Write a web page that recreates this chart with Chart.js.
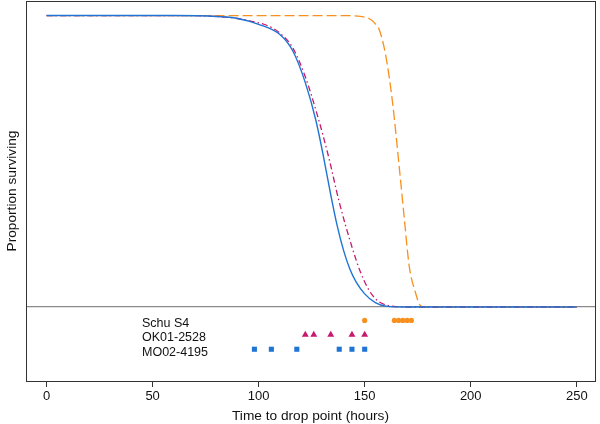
<!DOCTYPE html>
<html>
<head>
<meta charset="utf-8">
<script src="https://cdn.jsdelivr.net/npm/chart.js@4/dist/chart.umd.min.js"></script>
<style>
  html, body { margin: 0; padding: 0; background: #fff; }
  #wrap { width: 600px; height: 424px; }
</style>
</head>
<body>
<div id="wrap"><canvas id="chart" width="600" height="424"></canvas></div>
<script>
// fitted survival curves (time in hours, proportion surviving)
const moTime = [0, 60, 80, 90, 100, 110, 116, 122, 127, 131, 134, 137, 140, 143, 146, 150, 155, 160, 170, 250];
const moSurv = [1, 1, 0.997, 0.99, 0.97, 0.935, 0.88, 0.77, 0.64, 0.5, 0.385, 0.28, 0.195, 0.13, 0.085, 0.045, 0.015, 0.003, 0, 0];

const okTime = [0, 60, 80, 90, 100, 104, 110, 116, 122, 128, 133, 138, 144, 148, 152, 156, 160, 165, 170, 250];
const okSurv = [1, 1, 0.997, 0.99, 0.975, 0.966, 0.94, 0.89, 0.79, 0.65, 0.515, 0.36, 0.206, 0.12, 0.058, 0.022, 0.007, 0.001, 0, 0];

const schuTime = [0, 140, 148, 152, 154.5, 157, 160, 163, 166.3, 168.6, 171, 174, 176, 178, 250];
const schuSurv = [1, 1, 0.997, 0.99, 0.976, 0.949, 0.86, 0.71, 0.48, 0.31, 0.14, 0.048, 0.007, 0, 0];

// observed drop-point times per strain
const schuDrops = [150, 164, 166, 168, 170, 172];
const okDrops = [122, 126, 134, 144, 150];
const moDrops = [98, 106, 118, 138, 144, 150];

const strainLabels = ['Schu S4', 'OK01-2528', 'MO02-4195'];
const rowLevels = [-0.046, -0.095, -0.145];
const labelAt = 45;

const xTicks = [0, 50, 100, 150, 200, 250];

const blue = '#1f74d4';
const magenta = '#c8196e';
const orange = '#f7901e';
const font = "'Liberation Sans', Arial, sans-serif";

const pts = (xs, ys) => xs.map((x, i) => ({ x, y: ys[i] }));
const row = (xs, level) => xs.map(x => ({ x, y: level }));

const boxAndLabels = {
  id: 'boxAndLabels',
  afterDraw(chart) {
    const { ctx, chartArea: a, scales: { x, y } } = chart;
    ctx.save();
    ctx.strokeStyle = '#333';
    ctx.lineWidth = 1;
    ctx.strokeRect(Math.round(a.left) + 0.5, Math.round(a.top) + 0.5,
      Math.round(a.right - a.left), Math.round(a.bottom - a.top));
    ctx.fillStyle = '#111';
    ctx.font = '12.5px ' + font;
    ctx.textBaseline = 'middle';
    ctx.textAlign = 'left';
    strainLabels.forEach((t, i) => {
      ctx.fillText(t, x.getPixelForValue(labelAt), y.getPixelForValue(rowLevels[i]) + 3);
    });
    ctx.restore();
  }
};

const lineSet = (label, data, color, dash, width) => ({
  type: 'line', label, data,
  borderColor: color, borderWidth: width, borderDash: dash,
  pointRadius: 0, fill: false, cubicInterpolationMode: 'monotone'
});
const markSet = (label, data, color, style, r) => ({
  type: 'scatter', label, data,
  pointStyle: style, pointRadius: r, backgroundColor: color, borderColor: color, borderWidth: 0
});

new Chart(document.getElementById('chart'), {
  data: {
    datasets: [
      lineSet('MO02-4195', pts(moTime, moSurv), blue, [], 1.4),
      lineSet('OK01-2528', pts(okTime, okSurv), magenta, [6, 3, 1.5, 3], 1.3),
      lineSet('Schu S4', pts(schuTime, schuSurv), orange, [10, 4], 1.3),
      markSet('Schu S4 drops', row(schuDrops, rowLevels[0]), orange, 'circle', 2.6),
      markSet('OK01-2528 drops', row(okDrops, rowLevels[1]), magenta, 'triangle', 4),
      markSet('MO02-4195 drops', row(moDrops, rowLevels[2]), blue, 'rect', 3.6)
    ]
  },
  options: {
    responsive: false,
    animation: false,
    events: [],
    layout: { autoPadding: false, padding: { top: 1, right: 5, left: 0, bottom: 0 } },
    plugins: { legend: { display: false }, tooltip: { enabled: false } },
    scales: {
      x: {
        type: 'linear', min: -9.7, max: 258.6,
        afterBuildTicks: s => { s.ticks = xTicks.map(v => ({ value: v })); },
        afterFit: s => { s.height = 43; },
        grid: { drawOnChartArea: false, drawTicks: true, tickLength: 6, color: '#333' },
        border: { display: false },
        ticks: { color: '#111', font: { family: font, size: 13 }, padding: 2 },
        title: { display: true, text: 'Time to drop point (hours)', color: '#111',
          font: { family: font, size: 13.7 }, padding: { top: 0, bottom: 0 } }
      },
      y: {
        type: 'linear', min: -0.254, max: 1.05,
        afterBuildTicks: s => { s.ticks = [{ value: 0 }]; },
        afterFit: s => { s.width = 26; },
        grid: { drawTicks: false, color: '#8a8a8a', lineWidth: 1.3 },
        border: { display: false },
        ticks: { display: false },
        title: { display: true, text: 'Proportion surviving', color: '#111',
          font: { family: font, size: 13.7 }, padding: { top: 4, bottom: 0 } }
      }
    }
  },
  plugins: [boxAndLabels]
});
</script>
</body>
</html>
